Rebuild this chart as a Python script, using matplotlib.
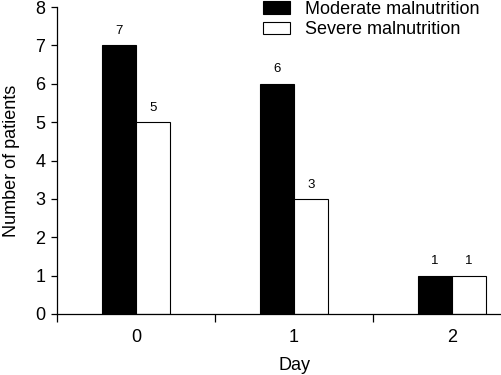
import matplotlib
matplotlib.use("Agg")
import matplotlib.pyplot as plt
import numpy as np

plt.rcParams['font.family'] = ['Liberation Sans', 'DejaVu Sans']

days = ["0", "1", "2"]
moderate = [7, 6, 1]
severe = [5, 3, 1]
yticks = [0, 1, 2, 3, 4, 5, 6, 7, 8]

fig = plt.figure(figsize=(5.01, 3.75), dpi=100)
W, H = 501, 375
ax = fig.add_axes([57 / W, 1 - 314 / H, (531 - 57) / W, (314 - 7) / H])

x = np.arange(len(days))
w = 0.213
b1 = ax.bar(x - w / 2, moderate, w, color='black', edgecolor='black', linewidth=0.8, label='Moderate malnutrition')
b2 = ax.bar(x + w / 2, severe, w, color='white', edgecolor='black', linewidth=0.8, label='Severe malnutrition')

for bars, vals in ((b1, moderate), (b2, severe)):
    for r, v in zip(bars, vals):
        ax.annotate(str(v), (r.get_x() + r.get_width() / 2, v), xytext=(0, 6),
                    textcoords='offset points', ha='center', va='bottom', fontsize=9.5)

ax.set_xlim(-0.5, 2.5)
ax.set_ylim(0, 8)
ax.set_yticks(yticks)
ax.tick_params(axis='y', labelsize=13, length=4.5, width=0.9, pad=4)

ax.set_xticks([-0.5, 0.5, 1.5, 2.5])
ax.set_xticklabels([])
ax.tick_params(axis='x', which='major', length=5.5, width=0.9)
ax.set_xticks(x, minor=True)
ax.set_xticklabels(days, minor=True)
ax.tick_params(axis='x', which='minor', length=0, labelsize=13, pad=11)

for s in ('top', 'right'):
    ax.spines[s].set_visible(False)
for s in ('left', 'bottom'):
    ax.spines[s].set_linewidth(0.9)

ax.set_xlabel('Day', fontsize=13, labelpad=7.5)
ax.set_ylabel('Number of patients', fontsize=13, labelpad=11)

fig.legend(handles=[b1, b2], loc='upper left', bbox_to_anchor=(263 / W, 1 - 1 / H),
           frameon=False, fontsize=13, borderpad=0, borderaxespad=0,
           handlelength=1.5, handleheight=0.72, handletextpad=0.85, labelspacing=0.18)

fig.savefig('out.png', dpi=100)
